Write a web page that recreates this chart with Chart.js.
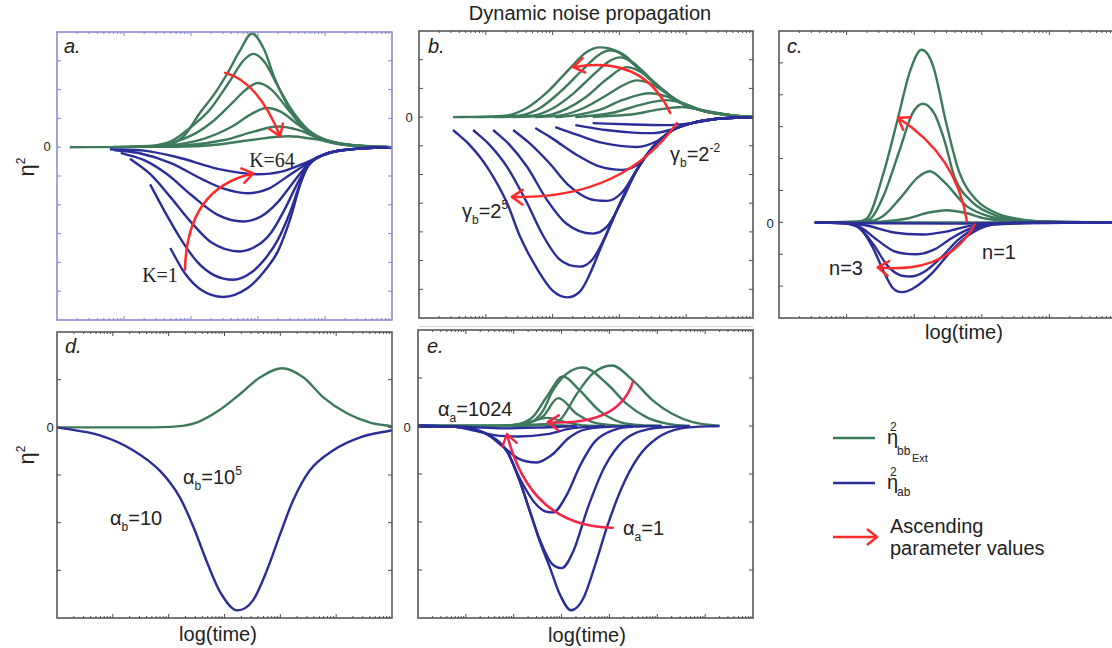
<!DOCTYPE html>
<html>
<head>
<meta charset="utf-8">
<script src="https://cdn.jsdelivr.net/npm/chart.js@4.4.1/dist/chart.umd.min.js"></script>
<style>
    body { margin: 0; background: #fff; width: 1112px; height: 648px; overflow: hidden; position: relative;
           font-family: "Liberation Sans", Arial, sans-serif; color: #222; }
    canvas { position: absolute; }
    .t { position: absolute; white-space: nowrap; font-size: 20px; line-height: 20px; }
    .c { transform: translate(-50%, -50%); }
    .l { transform: translateY(-50%); }
    .it { font-style: italic; }
    .z { font-size: 13px; line-height: 13px; }
    .serif { font-family: "Liberation Serif", "Times New Roman", serif; }
    .t sub { font-size: 12px; vertical-align: -6px; line-height: 0; }
    .t sup { font-size: 12px; vertical-align: 9px; line-height: 0; }
    .yl { font-size: 22px; transform: translate(-50%, -50%) rotate(-90deg); }
    .sm { font-size: 12px; line-height: 12px; }
</style>
</head>
<body>

<div class="t c" style="left:590px;top:13px">Dynamic noise propagation</div>

<div class="t l it" style="left:64px;top:46px">a.</div>
<div class="t l it" style="left:428px;top:46px">b.</div>
<div class="t l it" style="left:787px;top:46px">c.</div>
<div class="t l it" style="left:65px;top:346px">d.</div>
<div class="t l it" style="left:427px;top:346px">e.</div>

<div class="t c z" style="left:47px;top:146px">0</div>
<div class="t c z" style="left:409px;top:117px">0</div>
<div class="t c z" style="left:770px;top:223px">0</div>
<div class="t c z" style="left:50px;top:427px">0</div>
<div class="t c z" style="left:407px;top:427px">0</div>

<div class="t yl" style="left:27px;top:167px">η<sup>2</sup></div>
<div class="t yl" style="left:27px;top:455px">η<sup>2</sup></div>

<div class="t c" style="left:964px;top:332px">log(time)</div>
<div class="t c" style="left:218px;top:634px">log(time)</div>
<div class="t c" style="left:587px;top:635px">log(time)</div>

<div class="t c serif" style="left:272px;top:160px">K=64</div>
<div class="t c serif" style="left:160px;top:275px">K=1</div>
<div class="t l" style="left:670px;top:154px">γ<sub>b</sub>=2<sup>-2</sup></div>
<div class="t l" style="left:462px;top:211px">γ<sub>b</sub>=2<sup>5</sup></div>
<div class="t c" style="left:999px;top:252px">n=1</div>
<div class="t c" style="left:846px;top:268px">n=3</div>
<div class="t l" style="left:183px;top:477px">α<sub>b</sub>=10<sup>5</sup></div>
<div class="t l" style="left:110px;top:518px">α<sub>b</sub>=10</div>
<div class="t l" style="left:438px;top:409px">α<sub>a</sub>=1024</div>
<div class="t l" style="left:623px;top:528px">α<sub>a</sub>=1</div>

<div style="position:absolute;left:419px;top:326px;width:334px;height:1px;background:#d4d4d4"></div>

<svg style="position:absolute;left:830px;top:428px" width="60" height="125">
    <line x1="3" y1="10" x2="45" y2="10" stroke="#3d7a5b" stroke-width="2.4"/>
    <line x1="3" y1="55" x2="45" y2="55" stroke="#2b2d98" stroke-width="2.4"/>
    <path d="M3 109 L47 109 M37 101 L47 109 L37 117" stroke="#ff2a2a" stroke-width="2.4" fill="none"/>
</svg>
<div class="t l" style="left:887px;top:437px">η</div>
<div class="t l sm" style="left:890px;top:427px">2</div>
<div class="t l sm" style="left:897px;top:451px">bb</div>
<div class="t l sm" style="left:912px;top:458px;font-size:11px">Ext</div>
<div class="t l" style="left:887px;top:482px">η</div>
<div class="t l sm" style="left:890px;top:472px">2</div>
<div class="t l sm" style="left:897px;top:492px">ab</div>
<div class="t l" style="left:890px;top:526px">Ascending</div>
<div class="t l" style="left:890px;top:548px">parameter values</div>

<script>
const GREEN = '#3d7a5b';
const BLUE = '#2b2d98';

// curves are [log10(time) in decades from the left edge, value in tick units]

// panel a: carrying capacity K = 1 ... 64
const aGreen = [
    [[1.69,0.05],[1.9,0.4],[2.13,1.18],[2.35,1.85],[2.54,2.55],[2.73,3.35],[2.91,3.95],[3.09,3.4],[3.24,2.45],[3.43,1.5],[3.63,0.8],[3.88,0.32],[4.37,0.06],[5,0]],
    [[1.39,0.03],[1.7,0.2],[2.0,0.7],[2.28,1.3],[2.58,2.3],[2.78,3.0],[2.93,3.24],[3.1,2.95],[3.3,2.1],[3.5,1.3],[3.75,0.6],[4.05,0.22],[4.5,0.05],[5,0]],
    [[1.09,0.02],[1.6,0.1],[2.0,0.4],[2.3,0.85],[2.6,1.5],[2.82,2.0],[3.0,2.23],[3.2,2.0],[3.42,1.4],[3.65,0.75],[3.95,0.3],[4.4,0.07],[5,0]],
    [[0.95,0.01],[1.7,0.07],[2.2,0.3],[2.6,0.7],[2.9,1.15],[3.13,1.36],[3.35,1.22],[3.6,0.78],[3.85,0.4],[4.2,0.13],[4.7,0.03],[5,0]],
    [[0.85,0.01],[1.9,0.06],[2.5,0.25],[2.95,0.55],[3.3,0.72],[3.6,0.6],[3.9,0.32],[4.25,0.12],[4.7,0.03],[5,0]],
    [[0.19,0],[1.5,0.01],[2.3,0.07],[2.9,0.25],[3.45,0.38],[3.85,0.28],[4.2,0.12],[4.6,0.03],[5,0]]
];
const aBlue = [
    [[1.69,-3.5],[1.9,-4.35],[2.15,-4.95],[2.48,-5.2],[2.84,-4.9],[3.13,-4.2],[3.3,-3.6],[3.48,-2.5],[3.63,-1.3],[3.75,-0.65],[4.05,-0.22],[4.5,-0.05],[5,0]],
    [[1.39,-1.29],[1.6,-2.2],[1.85,-3.2],[2.1,-4.0],[2.35,-4.45],[2.63,-4.6],[2.9,-4.35],[3.13,-3.8],[3.3,-3.2],[3.48,-2.25],[3.63,-1.25],[3.75,-0.63],[4.05,-0.21],[4.5,-0.05],[5,0]],
    [[1.09,-0.4],[1.4,-0.95],[1.7,-1.75],[2.0,-2.6],[2.3,-3.3],[2.73,-3.62],[3.0,-3.4],[3.2,-2.95],[3.4,-2.15],[3.58,-1.3],[3.75,-0.62],[4.05,-0.21],[4.5,-0.05],[5,0]],
    [[0.95,-0.2],[1.3,-0.45],[1.65,-0.95],[2.0,-1.65],[2.4,-2.35],[2.78,-2.58],[3.05,-2.4],[3.3,-1.9],[3.5,-1.3],[3.75,-0.6],[4.05,-0.2],[4.5,-0.05],[5,0]],
    [[0.85,-0.1],[1.25,-0.22],[1.7,-0.55],[2.2,-1.15],[2.5,-1.45],[2.84,-1.6],[3.15,-1.45],[3.45,-1.0],[3.75,-0.55],[4.05,-0.2],[4.5,-0.05],[5,0]],
    [[0.79,-0.07],[1.3,-0.12],[1.8,-0.35],[2.4,-0.75],[2.99,-0.94],[3.35,-0.85],[3.75,-0.5],[4.05,-0.2],[4.5,-0.05],[5,0]]
];
const aArrows = [
    [[2.51,2.58],[2.96,1.88],[3.33,0.38]],
    [[1.91,-4.25],[2.18,-1.99],[2.93,-0.91]]
];

// panel b: gamma_b = 2^5 ... 2^-2
const bGreen = [
    [[0.51,0],[1.3,0.05],[1.6,0.3],[1.92,0.87],[2.26,1.7],[2.5,2.25],[2.71,2.43],[2.96,2.3],[3.26,1.74],[3.56,1.1],[3.9,0.52],[4.25,0.22],[4.66,0.07],[5,0]],
    [[0.81,0],[1.5,0.05],[1.8,0.3],[2.1,0.85],[2.45,1.65],[2.68,2.15],[2.86,2.33],[3.05,2.2],[3.28,1.72],[3.56,1.1],[3.9,0.52],[4.25,0.22],[4.66,0.07],[5,0]],
    [[1.11,0],[1.7,0.05],[2.0,0.3],[2.3,0.8],[2.62,1.5],[2.85,1.95],[3.01,2.08],[3.2,1.9],[3.35,1.6],[3.58,1.08],[3.9,0.52],[4.25,0.22],[4.66,0.07],[5,0]],
    [[1.41,0],[1.9,0.05],[2.2,0.28],[2.5,0.7],[2.8,1.3],[3.11,1.74],[3.3,1.6],[3.45,1.35],[3.62,1.02],[3.9,0.52],[4.25,0.22],[4.66,0.07],[5,0]],
    [[1.74,0],[2.1,0.05],[2.45,0.3],[2.8,0.75],[3.05,1.1],[3.26,1.28],[3.45,1.18],[3.65,0.92],[3.9,0.54],[4.25,0.22],[4.66,0.07],[5,0]],
    [[2.04,0],[2.3,0.05],[2.7,0.25],[3.05,0.6],[3.46,0.83],[3.7,0.72],[3.92,0.5],[4.25,0.22],[4.66,0.07],[5,0]],
    [[2.34,0],[2.5,0.03],[2.9,0.15],[3.3,0.42],[3.71,0.59],[3.95,0.48],[4.25,0.23],[4.66,0.07],[5,0]],
    [[2.6,0],[2.7,0.02],[3.2,0.1],[3.6,0.27],[3.95,0.35],[4.2,0.26],[4.66,0.07],[5,0]]
];
const bBlue = [
    [[0.51,-0.45],[0.75,-0.95],[1.02,-1.74],[1.32,-3.0],[1.51,-4.15],[1.77,-5.3],[2.0,-6.05],[2.22,-6.28],[2.4,-6.1],[2.51,-5.7],[2.75,-4.4],[3.01,-3.0],[3.26,-1.85],[3.5,-1.05],[3.8,-0.45],[4.1,-0.2],[4.5,-0.05],[5,0]],
    [[0.81,-0.45],[1.05,-0.95],[1.32,-1.74],[1.62,-3.0],[1.85,-4.1],[2.1,-4.95],[2.41,-5.21],[2.6,-4.95],[2.77,-4.25],[3.01,-3.0],[3.26,-1.85],[3.5,-1.05],[3.8,-0.45],[4.1,-0.2],[4.5,-0.05],[5,0]],
    [[1.11,-0.45],[1.35,-0.95],[1.62,-1.74],[1.92,-2.9],[2.2,-3.7],[2.6,-4.06],[2.82,-3.8],[3.03,-2.95],[3.26,-1.85],[3.5,-1.05],[3.8,-0.45],[4.1,-0.2],[4.5,-0.05],[5,0]],
    [[1.41,-0.45],[1.65,-0.9],[1.95,-1.6],[2.25,-2.4],[2.55,-2.85],[2.81,-2.92],[3.05,-2.6],[3.27,-1.8],[3.5,-1.05],[3.8,-0.45],[4.1,-0.2],[4.5,-0.05],[5,0]],
    [[1.74,-0.38],[2.0,-0.75],[2.35,-1.3],[2.7,-1.72],[3.05,-1.84],[3.3,-1.6],[3.52,-1.0],[3.8,-0.45],[4.1,-0.2],[4.5,-0.05],[5,0]],
    [[2.04,-0.35],[2.35,-0.6],[2.75,-0.9],[3.26,-1.04],[3.55,-0.85],[3.8,-0.45],[4.1,-0.2],[4.5,-0.05],[5,0]],
    [[2.34,-0.28],[2.8,-0.45],[3.2,-0.54],[3.5,-0.56],[3.8,-0.42],[4.1,-0.2],[4.5,-0.05],[5,0]],
    [[2.6,-0.21],[3.2,-0.26],[3.7,-0.28],[4.1,-0.2],[4.5,-0.05],[5,0]]
];
const bArrows = [
    [[3.76,0.14],[3.2,1.56],[2.31,1.74]],
    [[3.86,-0.21],[2.83,-2.19],[1.39,-2.78]]
];

// panel c: Hill coefficient n = 1 ... 3
const cGreen = [
    [[0.53,0],[1.1,0.02],[1.3,0.12],[1.54,1.5],[1.74,3.1],[1.94,4.75],[2.11,5.41],[2.28,4.9],[2.48,3.05],[2.67,1.55],[2.92,0.7],[3.26,0.25],[3.56,0.1],[4.0,0.02],[5,0]],
    [[0.53,0],[1.2,0.02],[1.36,0.12],[1.54,0.8],[1.79,2.3],[1.97,3.4],[2.13,3.72],[2.3,3.4],[2.45,2.55],[2.6,1.4],[2.85,0.65],[3.2,0.22],[3.6,0.06],[5,0]],
    [[0.53,0],[1.3,0.02],[1.54,0.2],[1.79,0.75],[2.05,1.4],[2.23,1.6],[2.45,1.25],[2.78,0.5],[3.16,0.16],[3.6,0.04],[5,0]],
    [[0.53,0],[1.5,0.02],[1.9,0.12],[2.2,0.3],[2.48,0.38],[2.75,0.3],[3.05,0.12],[3.5,0.03],[5,0]],
    [[0.53,0],[5,0]]
];
const cBlue = [
    [[0.53,0],[1.0,-0.04],[1.2,-0.2],[1.39,-0.8],[1.55,-1.55],[1.68,-2.05],[1.82,-2.19],[2.0,-2.05],[2.28,-1.56],[2.53,-0.94],[2.78,-0.44],[3.07,-0.12],[3.5,-0.02],[5,0]],
    [[0.53,0],[1.0,-0.04],[1.2,-0.2],[1.4,-0.7],[1.6,-1.35],[1.78,-1.65],[1.94,-1.7],[2.15,-1.55],[2.4,-1.1],[2.65,-0.55],[2.9,-0.2],[3.2,-0.06],[5,0]],
    [[0.53,0],[1.0,-0.03],[1.2,-0.15],[1.45,-0.55],[1.7,-0.9],[2.04,-1.0],[2.3,-0.85],[2.55,-0.5],[2.8,-0.22],[3.1,-0.06],[5,0]],
    [[0.53,0],[1.0,-0.02],[1.3,-0.1],[1.7,-0.32],[2.13,-0.38],[2.5,-0.28],[2.8,-0.12],[3.1,-0.04],[5,0]],
    [[0.53,0],[1.5,-0.03],[2.5,-0.04],[3.5,-0.01],[5,0]]
];
const cArrows = [
    [[2.78,0.03],[2.45,1.88],[1.76,3.28]],
    [[2.9,-0.06],[2.33,-1.19],[1.46,-1.41]]
];

// panel d: alpha_b = 10 ... 10^5
const dGreen = [
    [[0,0],[1.5,0],[2.15,0.02],[2.5,0.1],[2.87,0.33],[3.28,0.7],[3.64,1.05],[4.03,1.24],[4.41,1.05],[4.77,0.63],[5.2,0.29],[5.61,0.1],[6,0.02]]
];
const dBlue = [
    [[0,0],[0.77,-0.17],[1.36,-0.48],[1.85,-0.92],[2.2,-1.47],[2.44,-2.08],[2.69,-2.84],[2.92,-3.45],[3.23,-3.84],[3.51,-3.63],[3.76,-3.0],[4.0,-2.23],[4.23,-1.53],[4.53,-0.9],[4.95,-0.48],[5.43,-0.21],[6,-0.06]]
];

// panel e: alpha_a = 1 ... 1024
const eGreen = [
    [[0,0],[2.0,0],[2.6,0.03],[2.96,0.12],[3.32,0.67],[3.65,1.09],[4.05,1.26],[4.49,0.95],[4.91,0.53],[5.32,0.25],[5.74,0.08],[6.3,0]],
    [[0,0],[1.8,0],[2.3,0.05],[2.6,0.3],[2.82,0.74],[3.11,1.09],[3.44,1.22],[3.95,0.88],[4.36,0.46],[4.78,0.18],[5.2,0.05],[5.68,0]],
    [[0,0],[1.6,0],[2.1,0.04],[2.4,0.19],[2.69,0.61],[3.03,1.03],[3.38,0.74],[3.8,0.31],[4.22,0.08],[4.6,0.02],[5.09,0]],
    [[0,0],[1.6,0],[2.2,0.05],[2.61,0.2],[2.93,0.58],[3.32,0.25],[3.65,0.08],[4.0,0.02],[4.49,0]],
    [[0,0],[1.5,0],[2.2,0.05],[2.7,0.17],[3.1,0.08],[3.5,0.01],[3.9,0]],
    [[0,0],[2.0,0.01],[2.6,0.03],[3.0,0.01],[3.32,0]]
];
const eBlue = [
    [[0,0],[0.73,-0.01],[1.1,-0.06],[1.44,-0.17],[1.86,-0.53],[2.13,-1.16],[2.34,-1.79],[2.55,-2.42],[2.76,-2.96],[2.96,-3.5],[3.2,-3.84],[3.45,-3.6],[3.7,-2.9],[3.95,-2.1],[4.25,-1.3],[4.6,-0.65],[5.0,-0.25],[5.5,-0.05],[6.3,0]],
    [[0,0],[0.73,-0.01],[1.1,-0.06],[1.44,-0.17],[1.86,-0.53],[2.13,-1.16],[2.34,-1.78],[2.55,-2.38],[2.78,-2.85],[3.0,-2.96],[3.25,-2.6],[3.55,-1.7],[3.9,-0.85],[4.3,-0.3],[4.8,-0.07],[5.68,0]],
    [[0,0],[0.73,-0.01],[1.1,-0.06],[1.44,-0.17],[1.86,-0.53],[2.13,-1.1],[2.4,-1.55],[2.6,-1.75],[2.82,-1.8],[3.1,-1.45],[3.4,-0.8],[3.7,-0.32],[4.1,-0.08],[4.6,-0.01],[5.09,0]],
    [[0,0],[0.73,-0.01],[1.1,-0.06],[1.44,-0.17],[1.8,-0.45],[2.1,-0.68],[2.48,-0.76],[2.8,-0.6],[3.15,-0.25],[3.5,-0.07],[4.49,0]],
    [[0,0],[0.73,-0.01],[1.2,-0.1],[1.6,-0.19],[2.1,-0.22],[2.7,-0.17],[3.2,-0.05],[3.9,0]],
    [[0,0],[1.0,-0.02],[1.8,-0.05],[2.6,-0.03],[3.32,0]]
];
const eArrows = [
    [[4.49,0.92],[3.9,0.25],[2.71,0.08]],
    [[4.07,-2.12],[2.65,-1.62],[1.86,-0.17]]
];

const panels = [
    {box: [57, 32, 335, 288], xMax: 5, yMin: -6, yMax: 4, frame: '#8585cf', red: '#ff2a2a', green: aGreen, blue: aBlue, arrows: aArrows},
    {box: [419, 31, 334, 287], xMax: 5, yMin: -7, yMax: 3, frame: '#4d4d4d', red: '#ff2a2a', green: bGreen, blue: bBlue, arrows: bArrows},
    {box: [779, 31, 338, 287], xMax: 5, yMin: -3, yMax: 6, frame: '#4d4d4d', red: '#ff2a2a', green: cGreen, blue: cBlue, arrows: cArrows},
    {box: [57, 332, 335, 286], xMax: 6, yMin: -4, yMax: 2, frame: '#4d4d4d', red: '#ff2a2a', green: dGreen, blue: dBlue, arrows: []},
    {box: [418, 330, 335, 288], xMax: 7, yMin: -4, yMax: 2, frame: '#4d4d4d', red: '#f2264b', green: eGreen, blue: eBlue, arrows: eArrows}
];

function lineSet(curve, color) {
    return {
        data: curve.map(([u, v]) => ({x: u, y: v})),
        borderColor: color,
        borderWidth: 2.4,
        cubicInterpolationMode: 'monotone',
        fill: false,
        pointRadius: 0
    };
}

// quadratic arc through start, middle and end, with an open head at the end
function drawArrow(ctx, xs, ys, arrow) {
    const p = arrow.map(([u, v]) => [xs.getPixelForValue(u), ys.getPixelForValue(v)]);
    const [s, m, e] = p;
    const c = [2 * m[0] - (s[0] + e[0]) / 2, 2 * m[1] - (s[1] + e[1]) / 2];
    ctx.beginPath();
    ctx.moveTo(s[0], s[1]);
    ctx.quadraticCurveTo(c[0], c[1], e[0], e[1]);
    const ang = Math.atan2(e[1] - c[1], e[0] - c[0]);
    [-1, 1].forEach((d) => {
        const a = ang + Math.PI + d * 0.6;
        ctx.moveTo(e[0], e[1]);
        ctx.lineTo(e[0] + 13 * Math.cos(a), e[1] + 13 * Math.sin(a));
    });
    ctx.stroke();
}

function framePlugin(p) {
    return {
        id: 'panelFrame',
        afterDatasetsDraw(chart) {
            const {ctx, scales: {x, y}} = chart;
            ctx.save();
            ctx.strokeStyle = p.red;
            ctx.lineWidth = 2.5;
            ctx.lineCap = 'round';
            p.arrows.forEach((a) => drawArrow(ctx, x, y, a));
            ctx.restore();
        },
        afterDraw(chart) {
            const {ctx, chartArea: {left, top, right, bottom}, scales: {x, y}} = chart;
            ctx.save();
            ctx.strokeStyle = p.frame;
            ctx.lineWidth = 1.5;
            ctx.strokeRect(left, top, right - left, bottom - top);
            ctx.beginPath();
            // log-spaced ticks along top and bottom, pointing inwards
            for (let n = 0; n < p.xMax; n++) {
                for (let k = 1; k <= 9; k++) {
                    if (n === 0 && k === 1) continue;
                    const px = x.getPixelForValue(n + Math.log10(k));
                    const len = k === 1 ? 4 : 2;
                    ctx.moveTo(px, top); ctx.lineTo(px, top + len);
                    ctx.moveTo(px, bottom); ctx.lineTo(px, bottom - len);
                }
            }
            for (let v = p.yMin + 1; v < p.yMax; v++) {
                const py = y.getPixelForValue(v);
                ctx.moveTo(left, py); ctx.lineTo(left + 4, py);
                ctx.moveTo(right, py); ctx.lineTo(right - 4, py);
            }
            ctx.lineWidth = 1;
            ctx.stroke();
            ctx.restore();
        }
    };
}

function buildPanel(p) {
    const [left, top, width, height] = p.box;
    const pad = 3;
    const canvas = document.createElement('canvas');
    canvas.width = width + 2 * pad;
    canvas.height = height + 2 * pad;
    canvas.style.left = (left - pad) + 'px';
    canvas.style.top = (top - pad) + 'px';
    document.body.appendChild(canvas);

    const datasets = [];
    p.blue.forEach((c) => datasets.push(lineSet(c, BLUE)));
    p.green.forEach((c) => datasets.push(lineSet(c, GREEN)));

    new Chart(canvas, {
        type: 'line',
        data: {datasets: datasets},
        options: {
            responsive: false,
            animation: false,
            devicePixelRatio: 1,
            layout: {padding: pad},
            scales: {
                x: {type: 'linear', min: 0, max: p.xMax, display: false},
                y: {type: 'linear', min: p.yMin, max: p.yMax, display: false}
            },
            plugins: {legend: {display: false}, tooltip: {enabled: false}},
            elements: {point: {radius: 0}}
        },
        plugins: [framePlugin(p)]
    });
}

panels.forEach(buildPanel);
</script>
</body>
</html>
